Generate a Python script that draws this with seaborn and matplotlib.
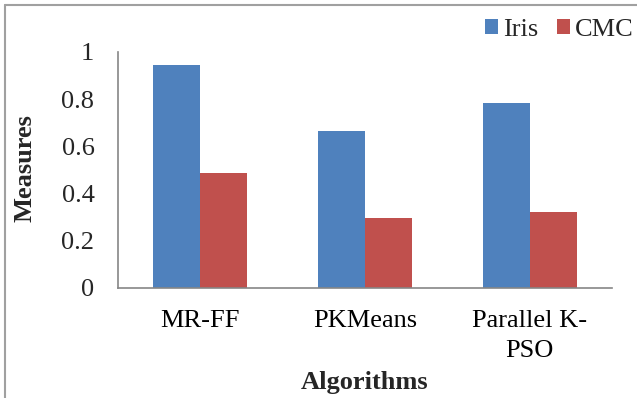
import matplotlib
matplotlib.use("Agg")
import matplotlib.pyplot as plt
from matplotlib.patches import Patch
from matplotlib.lines import Line2D
import seaborn as sns
import pandas as pd

algorithms = ["MR-FF", "PKMeans", "Parallel K-\nPSO"]
iris = [0.943, 0.667, 0.786]
cmc = [0.486, 0.297, 0.324]
series_names = ["Iris", "CMC"]
y_ticks = [0, 0.2, 0.4, 0.6, 0.8, 1]
y_tick_labels = ["0", "0.2", "0.4", "0.6", "0.8", "1"]

sns.set_style("white")
plt.rcParams["font.family"] = ["Liberation Serif", "DejaVu Serif"]

df = pd.DataFrame({
    "Algorithm": algorithms * 2,
    "Series": [series_names[0]] * 3 + [series_names[1]] * 3,
    "Value": iris + cmc,
})

W, H = 637, 398
FS = 19
fig = plt.figure(figsize=(W / 100, H / 100), dpi=100)
ax = fig.add_axes([118 / W, (H - 288) / H, 494 / W, 236 / H])

colors = ["#4F81BD", "#C0504D"]
sns.barplot(data=df, x="Algorithm", y="Value", hue="Series", order=algorithms,
            hue_order=series_names, palette=colors, width=0.57, saturation=1,
            edgecolor="none", linewidth=0, ax=ax, legend=False)

axis_col = "#868686"
ax.set_xlim(-0.5, 2.5)
ax.set_ylim(0, 1)
ax.set_yticks(y_ticks)
ax.set_yticklabels(y_tick_labels, fontsize=FS)
ax.set_xticks(range(len(algorithms)))
ax.set_xticklabels(algorithms, fontsize=FS, linespacing=1.47)
ax.set_xticks([-0.5, 0.5, 1.5, 2.5], minor=True)
ax.tick_params(axis="x", which="major", length=0, pad=16, colors="black")
ax.tick_params(axis="x", which="minor", length=6, width=1.2, color=axis_col, direction="out")
ax.tick_params(axis="y", which="major", length=6, width=1.2, color=axis_col, pad=11, direction="out")
ax.tick_params(axis="x", which="major", labelcolor="black")
for s in ["top", "right"]:
    ax.spines[s].set_visible(False)
for s in ["left", "bottom"]:
    ax.spines[s].set_color(axis_col)
    ax.spines[s].set_linewidth(1.2)
ax.set_xlabel("")
ax.set_ylabel("")
ax.grid(False)

fig.text(365 / W, 1 - 383 / H, "Algorithms", fontsize=FS, fontweight="bold",
         ha="center", va="center")
fig.text(25 / W, 1 - 168 / H, "Measures", fontsize=FS, fontweight="bold",
         ha="center", va="center", rotation=90)

handles = [Patch(facecolor=c, edgecolor="none") for c in colors]
fig.legend(handles, series_names, loc="center right", bbox_to_anchor=(634 / W, 1 - 30 / H),
           ncol=2, frameon=False, fontsize=FS, handlelength=0.5, handleheight=0.5,
           handletextpad=0.2, columnspacing=0.7, borderpad=0, borderaxespad=0)

border_col = "#A0A0A0"
fig.add_artist(Line2D([5 / W, 1], [1 - 5 / H, 1 - 5 / H], color=border_col, lw=1.5,
                      transform=fig.transFigure))
fig.add_artist(Line2D([5 / W, 5 / W], [0, 1 - 5 / H], color=border_col, lw=1.5,
                      transform=fig.transFigure))

fig.savefig("out.png", dpi=100)
